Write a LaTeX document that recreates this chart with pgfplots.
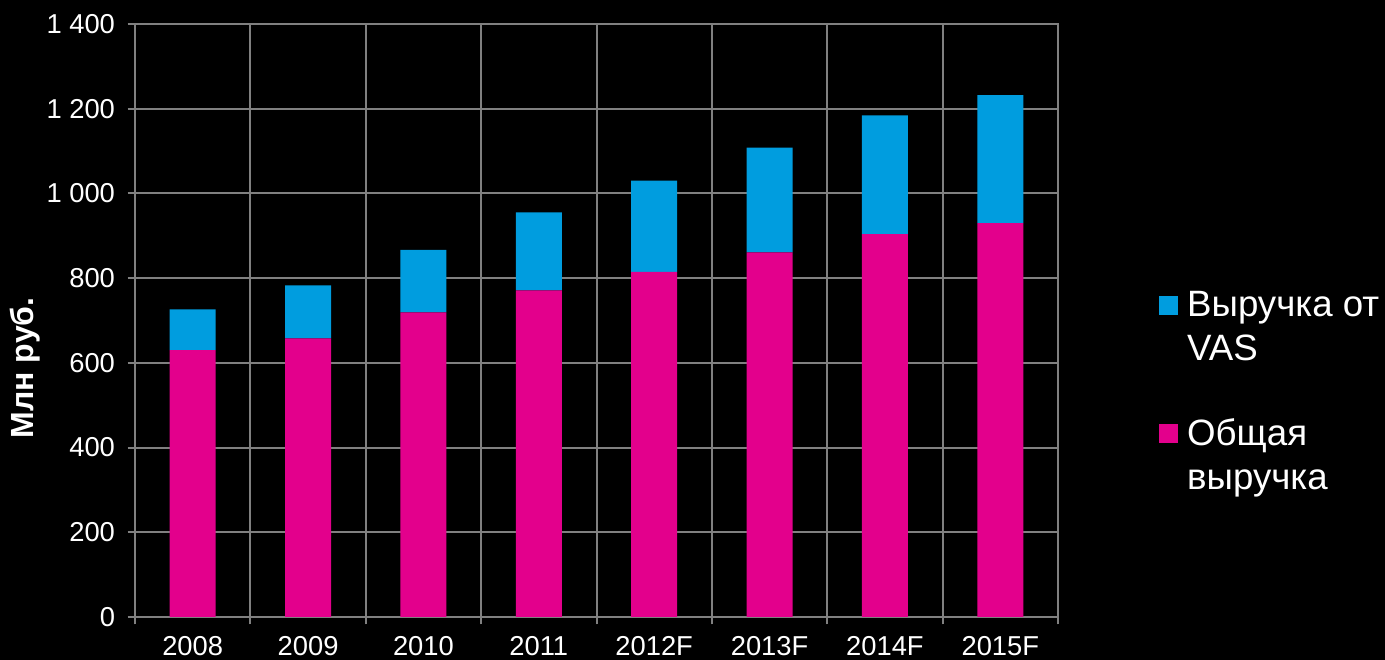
\documentclass[border=0pt]{standalone}
\usepackage{pgfplots}
\pgfplotsset{compat=1.18}
\usepackage{fontspec}
\setmainfont{Liberation Sans}
\definecolor{mag}{RGB}{227,0,140}
\definecolor{cyb}{RGB}{0,157,223}
\definecolor{gridg}{RGB}{128,128,128}
\begin{document}
\begin{tikzpicture}
\useasboundingbox (0,0) rectangle (1038.75pt,495pt);
\fill[black] (0,0) rectangle (1038.75pt,495pt);
\begin{axis}[
 at={(101.25pt,32.25pt)}, anchor=south west,
 scale only axis, width=692.25pt, height=444.75pt,
 ybar stacked, bar width=34.5pt,
 xmin=-0.5, xmax=7.5, ymin=0, ymax=1400,
 xtick={-0.5,0.5,...,7.5}, xticklabels={,,,,,,,,,},
 extra x ticks={0,1,...,7},
 extra x tick labels={2008,2009,2010,2011,2012F,2013F,2014F,2015F},
 extra x tick style={grid=none, major tick length=0pt, xticklabel style={yshift=-11pt}},
 ytick={0,200,...,1400},
 yticklabels={0,200,400,600,800,1 000,1 200,1 400},
 yticklabel style={xshift=-6pt},
 xtick pos=bottom, ytick pos=left,
 grid=major, grid style={gridg, line width=1.5pt},
 axis line style={gridg, line width=1.5pt},
 tick style={gridg, line width=1.5pt},
 tick align=outside, major tick length=5.5pt,
 ticklabel style={text=white, font=\fontsize{20.5}{24}\selectfont},
 ylabel={Млн руб.},
 ylabel style={text=white, font=\bfseries\fontsize{24}{28}\selectfont, at={(axis description cs:-0.119,0.42)}, anchor=center},
 legend style={at={(axis description cs:1.105,0.558)}, anchor=north west, draw=none, fill=none, text=white, font=\fontsize{27.5}{32.5}\selectfont, cells={anchor=west, align=left}, row sep=38.5pt},
 reverse legend,
 legend image code/.code={\fill[#1] (0pt,9pt) rectangle (14pt,23pt); \path (19pt,9pt);},
]
\addplot[fill=mag, draw=none] coordinates {(0,630) (1,658) (2,719) (3,771) (4,815) (5,861) (6,904) (7,930)};
\addlegendentry{Общая\\выручка}
\addplot[fill=cyb, draw=none] coordinates {(0,96) (1,125) (2,148) (3,184) (4,215) (5,247) (6,280) (7,302)};
\addlegendentry{Выручка от\\VAS}
\end{axis}
\end{tikzpicture}
\end{document}
